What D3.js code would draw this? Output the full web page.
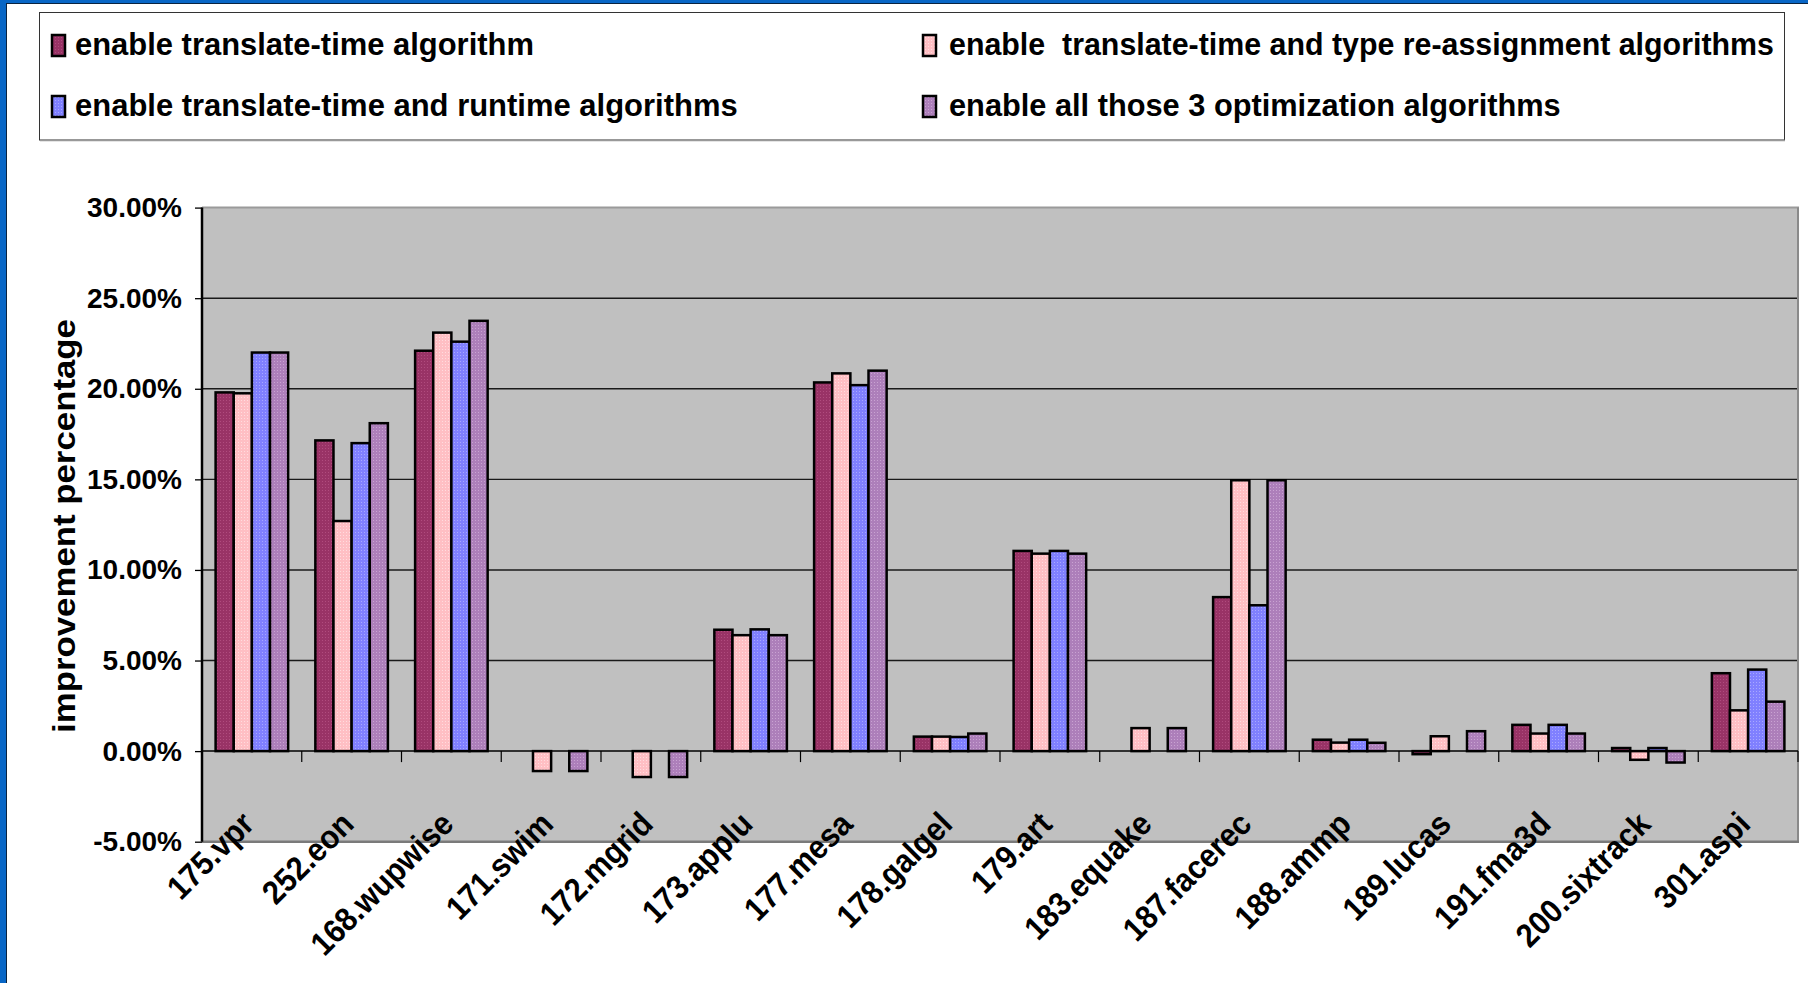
<!DOCTYPE html>
<html>
<head>
<meta charset="utf-8">
<script src="https://cdn.jsdelivr.net/npm/d3@7"></script>
<style>
  html, body { margin: 0; padding: 0; background: #fff; }
  svg { display: block; }
</style>
</head>
<body>
<svg id="chart"></svg>
<script>
// benchmark names along the x axis
const categories = ["175.vpr", "252.eon", "168.wupwise", "171.swim", "172.mgrid", "173.applu",
	"177.mesa", "178.galgel", "179.art", "183.equake", "187.facerec", "188.ammp",
	"189.lucas", "191.fma3d", "200.sixtrack", "301.aspi"];

// improvement percentage per benchmark, one array per configuration
const translateTime = [19.8, 17.15, 22.1, 0, 0, 6.7, 20.35, 0.8, 11.05, 0, 8.5, 0.63, -0.17, 1.45, 0.17, 4.3];
const typeReassign = [19.75, 12.7, 23.1, -1.1, -1.43, 6.4, 20.85, 0.8, 10.9, 1.27, 14.95, 0.47, 0.82, 0.97, -0.48, 2.25];
const runtimeAlg = [22.0, 17.0, 22.6, 0, 0, 6.72, 20.2, 0.78, 11.05, 0, 8.05, 0.63, 0, 1.45, 0.17, 4.5];
const allThree = [22.0, 18.1, 23.75, -1.1, -1.43, 6.4, 21.0, 0.97, 10.9, 1.27, 14.95, 0.46, 1.1, 0.97, -0.63, 2.73];

const seriesNames = ["enable translate-time algorithm",
	"enable  translate-time and type re-assignment algorithms",
	"enable translate-time and runtime algorithms",
	"enable all those 3 optimization algorithms"];
const seriesValues = [translateTime, typeReassign, runtimeAlg, allThree];
const yTicks = [-5, 0, 5, 10, 15, 20, 25, 30];

const width = 1808, height = 983;
const svg = d3.select("#chart").attr("width", width).attr("height", height);

// dotted fills like the old office charts
const fills = [
	{ id: "p0", base: "#993366", dot: "#b04c7e" },
	{ id: "p1", base: "#ffbfc4", dot: "#ffdcdf" },
	{ id: "p2", base: "#8080ff", dot: "#a8a8ff" },
	{ id: "p3", base: "#ad7fba", dot: "#c9a3d2" }
];
const defs = svg.append("defs");
fills.forEach(f => {
	const p = defs.append("pattern").attr("id", f.id)
		.attr("width", 3).attr("height", 3).attr("patternUnits", "userSpaceOnUse");
	p.append("rect").attr("width", 3).attr("height", 3).attr("fill", f.base);
	p.append("rect").attr("x", 1).attr("y", 1).attr("width", 1).attr("height", 1).attr("fill", f.dot);
});

svg.append("rect").attr("width", width).attr("height", height).attr("fill", "#fff");

// blue slide frame on the left and top
svg.append("rect").attr("x", 0).attr("y", 0).attr("width", 6).attr("height", height).attr("fill", "#0866c6");
svg.append("rect").attr("x", 0).attr("y", 0).attr("width", width).attr("height", 3).attr("fill", "#0866c6");
svg.append("line").attr("x1", 6.5).attr("x2", 6.5).attr("y1", 3).attr("y2", height).attr("stroke", "#0a2340").attr("stroke-width", 1);
svg.append("line").attr("x1", 6).attr("x2", width).attr("y1", 3.5).attr("y2", 3.5).attr("stroke", "#0a2340").attr("stroke-width", 1);

// squeeze a text horizontally to a given width (condensed look)
function fitWidth(sel, len) {
	sel.each(function () {
		const natural = this.getComputedTextLength();
		const t = d3.select(this);
		t.attr("transform", (t.attr("transform") || "") + " scale(" + (len / natural) + ",1)");
	});
}

// legend
const legend = svg.append("g");
legend.append("rect")
	.attr("x", 39.5).attr("y", 12.5).attr("width", 1745).attr("height", 127.5)
	.attr("fill", "#fff").attr("stroke", "#333").attr("stroke-width", 1);
legend.append("line").attr("x1", 40).attr("x2", 1785).attr("y1", 140.5).attr("y2", 140.5)
	.attr("stroke", "#999").attr("stroke-width", 1.5);

const legendPos = [
	{ sx: 52, tx: 75, base: 55, len: 459 },
	{ sx: 923, tx: 949, base: 55, len: 825 },
	{ sx: 52, tx: 75, base: 116, len: 663 },
	{ sx: 923, tx: 949, base: 116, len: 612 }
];
const legendItems = legend.selectAll(".item")
	.data(seriesNames.map((name, i) => ({ name: name, i: i })))
	.join("g")
	.attr("class", "item");
legendItems.append("rect")
	.attr("x", d => legendPos[d.i].sx)
	.attr("y", d => legendPos[d.i].base - 20)
	.attr("width", 13).attr("height", 21)
	.attr("fill", d => "url(#" + fills[d.i].id + ")")
	.attr("stroke", "#000").attr("stroke-width", 2.5);
legendItems.append("text")
	.attr("transform", d => "translate(" + legendPos[d.i].tx + "," + legendPos[d.i].base + ")")
	.attr("font-family", "'Liberation Sans', Arial, sans-serif")
	.attr("font-weight", "bold")
	.attr("font-size", 32)
	.style("white-space", "pre")
	.text(d => d.name)
	.each(function (d) { fitWidth(d3.select(this), legendPos[d.i].len); });

// scales
const plotLeft = 202, plotRight = 1798;
const y = d3.scaleLinear().domain([-5, 30]).range([841.7, 207.6]);
const x = d3.scaleBand().domain(categories).range([plotLeft, plotRight]);
const edge = x.bandwidth() * 0.75 / 5.5;
const xSub = d3.scaleBand().domain(d3.range(4)).range([edge, x.bandwidth() - edge]);

// plot area
svg.append("rect")
	.attr("x", plotLeft).attr("y", y(30))
	.attr("width", plotRight - plotLeft).attr("height", y(-5) - y(30))
	.attr("fill", "#c0c0c0");

// gridlines
svg.append("g")
	.selectAll("line")
	.data(yTicks.filter(t => t > 0 && t < 30))
	.join("line")
	.attr("x1", plotLeft).attr("x2", plotRight)
	.attr("y1", d => y(d)).attr("y2", d => y(d))
	.attr("stroke", "#1a1a1a").attr("stroke-width", 1.4);

// plot border (grey top, right, bottom)
svg.append("line").attr("x1", plotLeft).attr("x2", plotRight + 1).attr("y1", y(30)).attr("y2", y(30))
	.attr("stroke", "#9a9a9a").attr("stroke-width", 2);
svg.append("line").attr("x1", plotRight).attr("x2", plotRight).attr("y1", y(30)).attr("y2", y(-5))
	.attr("stroke", "#8a8a8a").attr("stroke-width", 2);
svg.append("line").attr("x1", plotLeft).attr("x2", plotRight + 1).attr("y1", y(-5)).attr("y2", y(-5))
	.attr("stroke", "#7a7a7a").attr("stroke-width", 2.5);

// bars
const rows = [];
categories.forEach((c, ci) => {
	seriesValues.forEach((vals, si) => {
		rows.push({ cat: c, s: si, v: vals[ci] });
	});
});
svg.append("g")
	.selectAll("rect")
	.data(rows.filter(d => d.v !== 0))
	.join("rect")
	.attr("x", d => x(d.cat) + xSub(d.s))
	.attr("width", xSub.bandwidth())
	.attr("y", d => y(Math.max(0, d.v)))
	.attr("height", d => Math.abs(y(d.v) - y(0)))
	.attr("fill", d => "url(#" + fills[d.s].id + ")")
	.attr("stroke", "#000")
	.attr("stroke-width", 2.5);

// zero axis with category ticks
svg.append("line").attr("x1", plotLeft).attr("x2", plotRight).attr("y1", y(0)).attr("y2", y(0))
	.attr("stroke", "#000").attr("stroke-width", 1.5);
svg.append("g")
	.selectAll("line")
	.data(categories.slice(1).concat(["end"]))
	.join("line")
	.attr("x1", (d, i) => plotLeft + (i + 1) * x.step())
	.attr("x2", (d, i) => plotLeft + (i + 1) * x.step())
	.attr("y1", y(0)).attr("y2", y(0) + 11)
	.attr("stroke", "#000").attr("stroke-width", 1.2);

// y axis
const yAxis = d3.axisLeft(y)
	.tickValues(yTicks)
	.tickSize(7)
	.tickPadding(13)
	.tickFormat(d => d.toFixed(2) + "%");
const yg = svg.append("g").attr("transform", "translate(" + plotLeft + ",0)").call(yAxis);
yg.select(".domain").attr("stroke", "#000").attr("stroke-width", 2.5).attr("d", "M0," + y(30) + "V" + y(-5));
yg.selectAll(".tick line").attr("stroke", "#000").attr("stroke-width", 1.3);
yg.selectAll(".tick text")
	.attr("font-family", "'Liberation Sans', Arial, sans-serif")
	.attr("font-weight", "bold")
	.attr("font-size", 28)
	.attr("fill", "#000");

svg.append("text")
	.attr("transform", "translate(75,526) rotate(-90)")
	.attr("text-anchor", "middle")
	.attr("font-family", "'Liberation Sans', Arial, sans-serif")
	.attr("font-weight", "bold")
	.attr("font-size", 31)
	.text("improvement percentage")
	.call(fitWidth, 414);

// x labels, tilted and slightly narrowed
svg.append("g")
	.selectAll("text")
	.data(categories)
	.join("text")
	.attr("transform", d => "translate(" + (x(d) + x.bandwidth() / 2 + 4) + ",826) rotate(-45) scale(0.92,1)")
	.attr("text-anchor", "end")
	.attr("font-family", "'Liberation Sans', Arial, sans-serif")
	.attr("font-weight", "bold")
	.attr("font-size", 33)
	.text(d => d);
</script>
</body>
</html>
